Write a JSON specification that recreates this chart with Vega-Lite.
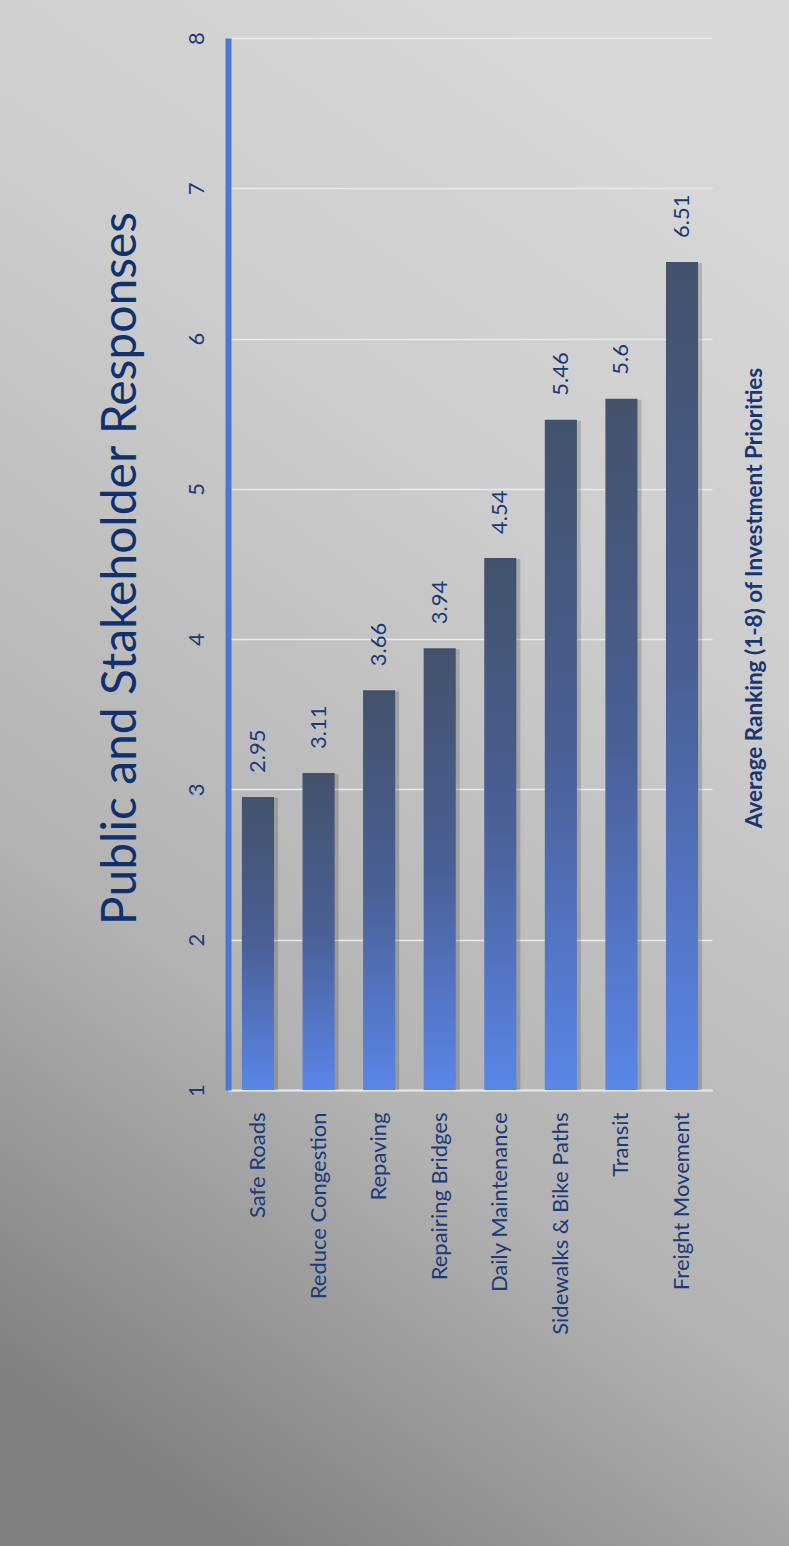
{
  "$schema": "https://vega.github.io/schema/vega-lite/v6.json",
  "width": 789,
  "height": 1546,
  "autosize": "none",
  "padding": 0,
  "background": "#b4b4b4",
  "config": {
    "font": "Lato",
    "view": {
      "stroke": null,
      "fill": {"gradient": "linear", "x1": 0.68, "y1": 0, "x2": 0.32, "y2": 1,
        "stops": [{"offset": 0, "color": "#d8d8d8"}, {"offset": 0.3, "color": "#cdcdcd"}, {"offset": 0.7, "color": "#b2b2b2"}, {"offset": 1, "color": "#808080"}]}
    }
  },
  "title": {
    "text": "Average Ranking (1-8) of Investment Priorities",
    "orient": "right",
    "anchor": "middle",
    "angle": -90,
    "baseline": "middle",
    "offset": -57,
    "dx": 175,
    "font": "Lato",
    "fontSize": 22.5,
    "fontWeight": "bold",
    "color": "#1a3672"
  },
  "data": {
    "values": [
      {"category": "Safe Roads", "value": 2.95},
      {"category": "Reduce Congestion", "value": 3.11},
      {"category": "Repaving", "value": 3.66},
      {"category": "Repairing Bridges", "value": 3.94},
      {"category": "Daily Maintenance", "value": 4.54},
      {"category": "Sidewalks & Bike Paths", "value": 5.46},
      {"category": "Transit", "value": 5.6},
      {"category": "Freight Movement", "value": 6.51}
    ]
  },
  "encoding": {
    "x": {
      "field": "category",
      "type": "nominal",
      "sort": null,
      "scale": {"range": [228, 712], "paddingInner": 0.47, "paddingOuter": 0.23},
      "axis": {
        "title": null,
        "offset": -456,
        "labelAngle": -90,
        "labelAlign": "right",
        "labelBaseline": "middle",
        "labelPadding": 22,
        "labelLimit": 0,
        "labelFont": "Lato",
        "labelFontSize": 22,
        "labelColor": "#1c3a78",
        "ticks": false,
        "tickSize": 0,
        "domainColor": "#e4e6ea",
        "domainWidth": 2,
        "grid": false
      }
    },
    "y": {
      "field": "value",
      "type": "quantitative",
      "scale": {"domain": [1, 8], "range": [1090, 38], "zero": false, "nice": false},
      "axis": {
        "values": [1, 2, 3, 4, 5, 6, 7, 8],
        "format": "d",
        "offset": -228,
        "title": "Public and Stakeholder Responses",
        "titleFont": "Lato",
        "titleFontSize": 48,
        "titleFontWeight": "normal",
        "titleColor": "#10306e",
        "titleAngle": -90,
        "titleAlign": "center",
        "titleBaseline": "alphabetic",
        "titleX": -93,
        "titleY": 568,
        "labelAngle": -90,
        "labelAlign": "center",
        "labelBaseline": "alphabetic",
        "labelPadding": 25,
        "labelFont": "Lato",
        "labelFontSize": 22,
        "labelColor": "#1c3a78",
        "ticks": false,
        "tickSize": 0,
        "domainColor": "#4a78d0",
        "domainWidth": 6,
        "grid": true,
        "gridColor": "#e8eaee",
        "gridWidth": 1.5
      }
    }
  },
  "layer": [
    {
      "mark": {"type": "bar", "color": "#000000", "opacity": 0.16, "xOffset": 4, "yOffset": 1},
      "encoding": {"y2": {"datum": 1}}
    },
    {
      "mark": {
        "type": "bar",
        "color": {"gradient": "linear", "x1": 0, "y1": 0, "x2": 0, "y2": 1,
          "stops": [{"offset": 0, "color": "#43526c"}, {"offset": 0.5, "color": "#4a6096"}, {"offset": 1, "color": "#5a86e8"}]}
      },
      "encoding": {"y2": {"datum": 1}}
    },
    {
      "mark": {
        "type": "text",
        "angle": 270,
        "align": "left",
        "baseline": "middle",
        "dx": 24,
        "font": "Lato",
        "fontSize": 22,
        "color": "#1c3a78"
      },
      "encoding": {
        "text": {"field": "value", "type": "nominal"}
      }
    }
  ]
}
